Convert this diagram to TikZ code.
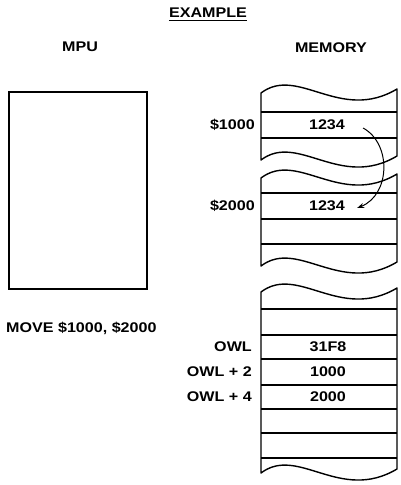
\documentclass[tikz,border=0pt]{standalone}
\usepackage{fontspec}
\setmainfont{Liberation Sans}[FakeStretch=1.15]
\usetikzlibrary{arrows.meta}
\tikzset{
  txt/.style={inner sep=0pt, font=\fontsize{14}{16}\selectfont\bfseries},
  lbl/.style={txt, anchor=east},
  mem/.style={line width=1.4pt, line join=round},
  arr/.style={line width=1pt, -{Stealth[length=7pt,width=5pt]}}
}
\newcommand\memseg[2]{%
  \draw[mem] (261,#1) .. controls (298,{#1-28}) and (340,{#1+30}) .. (397,{#1-4})
    -- (397,{#2-4}) .. controls (340,{#2+30}) and (298,{#2-28}) .. (261,#2) -- cycle;}
\newcommand\memline[1]{\draw[mem] (261,#1) -- (397,#1);}
\begin{document}
\begin{tikzpicture}[x=1pt,y=-1pt]
\useasboundingbox (0,0) rectangle (401,485);
% titles
\node[txt] (ex) at (208,13) {EXAMPLE};
\draw[line width=1pt] ([yshift=-3pt]ex.base west) -- ([yshift=-3pt]ex.base east);
\node[txt] (mpulbl) at (80,47) {MPU};
\node[txt] (memlbl) at (331,48) {MEMORY};
% MPU box
\node[draw, line width=1.6pt, minimum width=138pt, minimum height=197pt, inner sep=0pt] (mpu) at (78,190.5) {};
\node[txt, anchor=west] (instr) at (6,328) {MOVE \$1000, \$2000};
% memory segment 1
\memseg{93}{160}
\memline{112}\memline{138}
\node[txt] (m1) at (327,125) {1234};
\node[lbl] (l1) at (255,125) {\$1000};
% memory segment 2
\memseg{178}{266}
\memline{193}\memline{219}\memline{244}
\node[txt] (m2) at (327,206) {1234};
\node[lbl] (l2) at (255,206) {\$2000};
% memory segment 3
\memseg{292}{473}
\memline{309}\memline{335}\memline{359}\memline{385}\memline{409}\memline{433}\memline{458}
\node[txt] (w1) at (328,347) {31F8};
\node[txt] (w2) at (328,372) {1000};
\node[txt] (w3) at (328,397) {2000};
\node[lbl] (o1) at (252,347) {OWL};
\node[lbl] (o2) at (252,372) {OWL + 2};
\node[lbl] (o3) at (252,397) {OWL + 4};
% arrow
\draw[arr] ([xshift=18pt,yshift=-3pt]m1.east) .. controls +(29,16) and +(33,-13) .. ([xshift=12pt,yshift=-2pt]m2.east);
\end{tikzpicture}
\end{document}
